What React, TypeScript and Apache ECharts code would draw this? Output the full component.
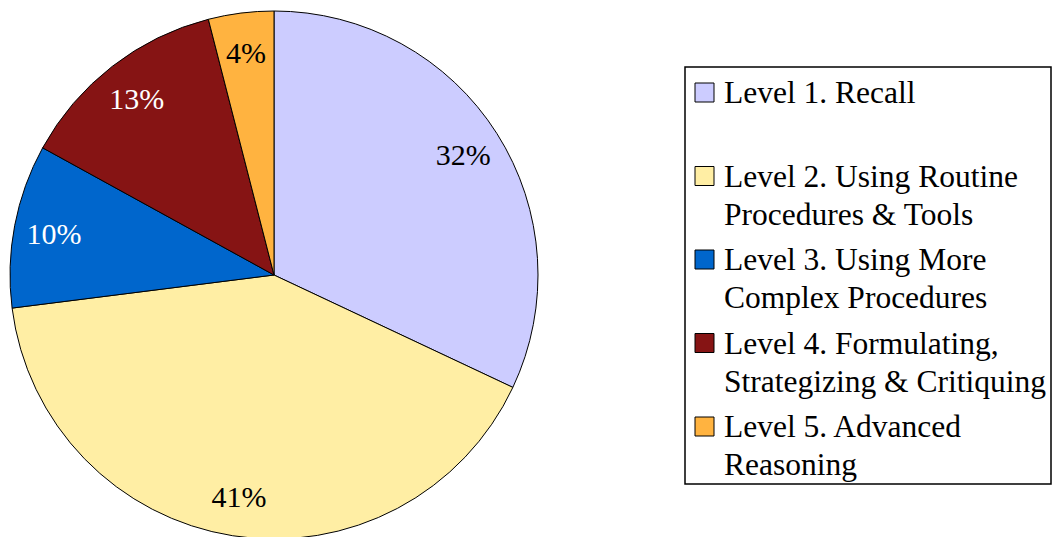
import React, { useEffect, useRef } from "react";
import * as echarts from "echarts";

// Cognitive-demand levels and their share of items (percent)
const categories = [
  "Level 1. Recall",
  "Level 2. Using Routine\nProcedures & Tools",
  "Level 3. Using More\nComplex Procedures",
  "Level 4. Formulating,\nStrategizing & Critiquing",
  "Level 5. Advanced\nReasoning",
];
const shares = [32, 41, 10, 13, 4];
const sliceColors = ["#CCCCFF", "#FFEEA4", "#0066CC", "#861414", "#FFB340"];
const labelColors = ["#000000", "#000000", "#FFFFFF", "#FFFFFF", "#000000"];

const FONT = '"Liberation Serif", "Times New Roman", Times, serif';

const PIE_CENTER = [274, 275];
const PIE_R = 264;

// legend box layout
const LEG_X = 685;
const LEG_Y = 67;
const LEG_W = 366;
const LEG_H = 417;
const LEG_FIRST_BASELINE = 103;
const LEG_STEP = 83.5;
const LEG_LINE = 38;
const LEG_FONT = 31.5;

function buildLegend() {
  const children: any[] = [
    {
      type: "rect",
      shape: { x: LEG_X, y: LEG_Y, width: LEG_W, height: LEG_H },
      style: { fill: "#FFFFFF", stroke: "#000000", lineWidth: 1.5 },
    },
  ];
  categories.forEach((name, i) => {
    const base = LEG_FIRST_BASELINE + LEG_STEP * i;
    children.push({
      type: "rect",
      shape: { x: 695, y: base - 20, width: 19, height: 19 },
      style: { fill: sliceColors[i], stroke: "#000000", lineWidth: 1 },
    });
    children.push({
      type: "text",
      x: 724,
      y: base - 29.5,
      style: {
        text: name,
        fontFamily: FONT,
        fontSize: LEG_FONT,
        lineHeight: LEG_LINE,
        fill: "#000000",
        align: "left",
        verticalAlign: "top",
      },
    });
  });
  return [{ type: "group", silent: true, children }];
}

export default function App() {
  const ref = useRef<HTMLDivElement>(null);

  useEffect(() => {
    if (!ref.current) return;
    const chart = echarts.init(ref.current, null, { renderer: "svg" });
    const data = categories.map((name, i) => ({
      name,
      value: shares[i],
      itemStyle: { color: sliceColors[i] },
    }));
    chart.setOption({
      animation: false,
      backgroundColor: "#FFFFFF",
      series: [
        {
          type: "pie",
          center: PIE_CENTER,
          radius: [0, PIE_R],
          startAngle: 90,
          clockwise: true,
          silent: true,
          emphasis: { disabled: true },
          label: { show: false },
          labelLine: { show: false },
          itemStyle: { borderColor: "#000000", borderWidth: 1 },
          data,
        },
        {
          // transparent ring that carries the percentage labels near the rim
          type: "pie",
          center: PIE_CENTER,
          radius: [178, PIE_R],
          startAngle: 90,
          clockwise: true,
          silent: true,
          emphasis: { disabled: true },
          labelLine: { show: false },
          itemStyle: { color: "transparent", borderWidth: 0 },
          label: {
            show: true,
            position: "inside",
            fontFamily: FONT,
            fontSize: 30,
            padding: [9, 0, 0, 0],
            formatter: (p: any) => `${p.value}%`,
          },
          data: categories.map((name, i) => ({
            name,
            value: shares[i],
            label: { color: labelColors[i] },
          })),
        },
      ],
      graphic: buildLegend(),
    });
    return () => chart.dispose();
  }, []);

  return (
    <div
      ref={ref}
      style={{ position: "fixed", left: 0, top: 0, width: 1053, height: 537 }}
    />
  );
}
